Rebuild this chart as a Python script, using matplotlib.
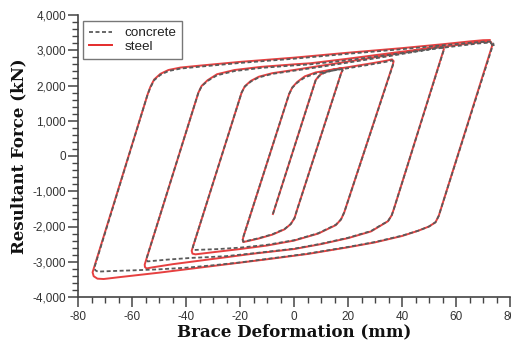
import matplotlib
matplotlib.use("Agg")
import matplotlib.pyplot as plt
from matplotlib.ticker import MultipleLocator, FuncFormatter
from matplotlib.lines import Line2D

plt.rcParams["axes.unicode_minus"] = False

# Hysteresis path of the steel-cored brace (deformation in mm, force in kN)
steel_deform = [
    -7.8,
    8.0, 9.3, 11.0, 14.0, 17.5,
    18.0, 17.4, 1.0, 0.2, -1.2, -3.5, -8.0, -13.0, -17.5, -18.8,
    -19.0, -18.7, -1.8, -0.6, 1.2, 4.0, 8.0, 14.0, 20.0, 28.0, 34.0, 36.3,
    36.9, 36.6, 18.6, 17.4, 15.5, 12.5, 9.0, 0.0, -10.0, -20.0, -30.0, -36.5, -37.6,
    -37.9, -19.4, -18.2, -16.0, -13.0, -8.0, 0.0, 10.0, 20.0, 35.0, 48.0, 54.3, 55.2,
    55.5, 37.0, 36.2, 34.8, 32.2, 28.5, 20.0, 10.0, 0.0, -15.0, -30.0, -45.0, -52.5, -54.6,
    -55.2, -55.3, -35.4, -34.2, -32.0, -28.5, -22.0, -12.0, 0.0, 6.0, 20.0, 40.0, 55.0, 68.0, 72.0, 73.0,
    73.4, 53.6, 52.4, 50.0, 46.0, 40.0, 30.0, 20.0, 5.0, -10.0, -30.0, -50.0, -65.0, -70.5, -72.8, -74.2, -74.6,
    -54.2, -53.2, -51.8, -49.5, -46.5, -42.0, -34.0, -20.0, 0.0, 20.0, 40.0, 55.0, 65.0, 70.0, 72.5,
]
steel_force = [
    -1645,
    2150, 2280, 2370, 2440, 2490,
    2440, 2340, -1560, -1760, -1930, -2080, -2230, -2340, -2420, -2440,
    -2380, -2280, 1760, 1950, 2100, 2260, 2370, 2450, 2520, 2620, 2700, 2740,
    2690, 2590, -1600, -1800, -1960, -2070, -2200, -2400, -2540, -2640, -2730, -2790, -2770,
    -2690, 1800, 1980, 2130, 2250, 2350, 2440, 2560, 2680, 2860, 3030, 3120, 3110,
    3030, -1500, -1680, -1850, -1970, -2140, -2330, -2500, -2640, -2770, -2920, -3070, -3160, -3190,
    -3150, -3080, 1800, 1990, 2150, 2320, 2440, 2530, 2600, 2630, 2760, 2960, 3100, 3220, 3250, 3230,
    3130, -1700, -1880, -2000, -2120, -2270, -2450, -2590, -2780, -2930, -3120, -3310, -3440, -3490, -3480, -3410, -3300,
    1750, 1960, 2170, 2330, 2440, 2510, 2570, 2670, 2790, 2930, 3060, 3170, 3250, 3285, 3290,
]

# Hysteresis path of the concrete-filled brace
concrete_deform = [
    -7.8,
    8.0, 9.3, 11.0, 14.0, 17.5,
    18.0, 17.4, 1.0, 0.2, -1.2, -3.5, -8.0, -13.0, -17.5, -18.8,
    -19.0, -18.7, -1.8, -0.6, 1.2, 4.0, 8.0, 14.0, 20.0, 28.0, 34.0, 36.3,
    36.9, 36.6, 18.6, 17.4, 15.5, 12.5, 9.0, 0.0, -10.0, -20.0, -28.0, -33.0, -36.8, -37.3,
    -37.45, -19.4, -18.2, -16.0, -13.0, -8.0, 0.0, 10.0, 20.0, 35.0, 48.0, 54.3, 55.2,
    55.5, 37.0, 36.2, 34.8, 32.2, 28.5, 20.0, 10.0, 0.0, -15.0, -25.0, -32.0, -38.0, -47.0, -54.2, -54.6,
    -54.5, -35.4, -34.2, -32.0, -28.5, -22.0, -12.0, 0.0, 6.0, 20.0, 40.0, 55.0, 68.0, 72.0, 73.2,
    73.5, 53.6, 52.4, 50.0, 46.0, 40.0, 30.0, 20.0, 5.0, -10.0, -20.0, -30.0, -40.0, -50.0, -60.0, -68.0, -72.7, -73.6,
    -73.9, -54.2, -53.2, -51.8, -49.5, -46.5, -42.0, -34.0, -20.0, 0.0, 20.0, 40.0, 55.0, 65.0, 70.0, 72.8, 73.8, 74.0,
]
concrete_force = [
    -1640,
    2140, 2265, 2350, 2420, 2475,
    2430, 2330, -1560, -1760, -1930, -2070, -2220, -2330, -2410, -2430,
    -2370, -2280, 1760, 1940, 2080, 2230, 2340, 2420, 2490, 2590, 2670, 2710,
    2660, 2570, -1600, -1800, -1950, -2060, -2190, -2390, -2520, -2600, -2640, -2655, -2665, -2630,
    -2580, 1800, 1970, 2110, 2230, 2330, 2420, 2530, 2650, 2830, 3000, 3090, 3080,
    3010, -1500, -1680, -1850, -1960, -2130, -2320, -2490, -2630, -2760, -2840, -2870, -2890, -2940, -2990, -2940,
    -2880, 1800, 1980, 2130, 2290, 2410, 2500, 2570, 2600, 2720, 2920, 3070, 3190, 3215, 3195,
    3110, -1700, -1880, -2000, -2120, -2260, -2440, -2580, -2770, -2920, -3020, -3100, -3170, -3215, -3245, -3265, -3280, -3240,
    -3160, 1750, 1940, 2150, 2300, 2410, 2480, 2540, 2640, 2760, 2900, 3030, 3140, 3210, 3240, 3245, 3200, 3120,
]

series_labels = ["concrete", "steel"]
x_limits = (-80, 80)
y_limits = (-4000, 4000)

fig = plt.figure(figsize=(5.11, 3.42), dpi=100)
ax = fig.add_axes([78 / 511, 45 / 342, 432 / 511, 282 / 342])

steel_color = "#e42b2b"
concrete_color = "#5a5a5a"

ax.plot(steel_deform, steel_force, color=steel_color, lw=1.4, alpha=0.9,
        solid_joinstyle="round", zorder=2)
ax.plot(concrete_deform, concrete_force, color=concrete_color, lw=1.3,
        dashes=(2.2, 1.4), zorder=3)

ax.set_xlim(*x_limits)
ax.set_ylim(*y_limits)

ax.xaxis.set_major_locator(MultipleLocator(20))
ax.xaxis.set_minor_locator(MultipleLocator(5))
ax.yaxis.set_major_locator(MultipleLocator(1000))
ax.yaxis.set_minor_locator(MultipleLocator(200))
ax.yaxis.set_major_formatter(FuncFormatter(lambda v, p: f"{v:,.0f}"))
ax.xaxis.set_major_formatter(FuncFormatter(lambda v, p: f"{v:.0f}"))

for side in ("top", "right"):
    ax.spines[side].set_visible(False)
for side in ("left", "bottom"):
    ax.spines[side].set_color("#444444")
    ax.spines[side].set_linewidth(1.2)

ax.tick_params(which="major", direction="out", length=7, width=1.1, color="#444444",
               labelsize=8.5, labelcolor="#333333")
ax.tick_params(which="minor", direction="out", length=4, width=1.0, color="#444444")
ax.tick_params(axis="x", which="major", pad=3)
ax.tick_params(axis="y", which="major", pad=1.5)
for lbl in ax.get_xticklabels() + ax.get_yticklabels():
    lbl.set_fontfamily("Liberation Sans")

label_font = dict(family="DejaVu Serif", weight="bold", size=12, color="#111111")
ax.set_xlabel("Brace Deformation (mm)", labelpad=0, **label_font)
ax.set_ylabel("Resultant Force (kN)", labelpad=4, **label_font)

handles = [
    Line2D([], [], color=concrete_color, lw=1.3, dashes=(2.2, 1.4)),
    Line2D([], [], color=steel_color, lw=1.4),
]
leg = ax.legend(handles, series_labels, loc="upper left", bbox_to_anchor=(0.012, 0.979),
                borderaxespad=0, frameon=True, fancybox=False, framealpha=1,
                edgecolor="#777777", handlelength=1.7, handletextpad=0.9,
                labelspacing=0.05, borderpad=0.45,
                prop={"family": "Liberation Sans", "size": 9.7})
leg.get_frame().set_linewidth(1.0)
for t in leg.get_texts():
    t.set_color("#222222")

fig.savefig("out.png", dpi=100)
